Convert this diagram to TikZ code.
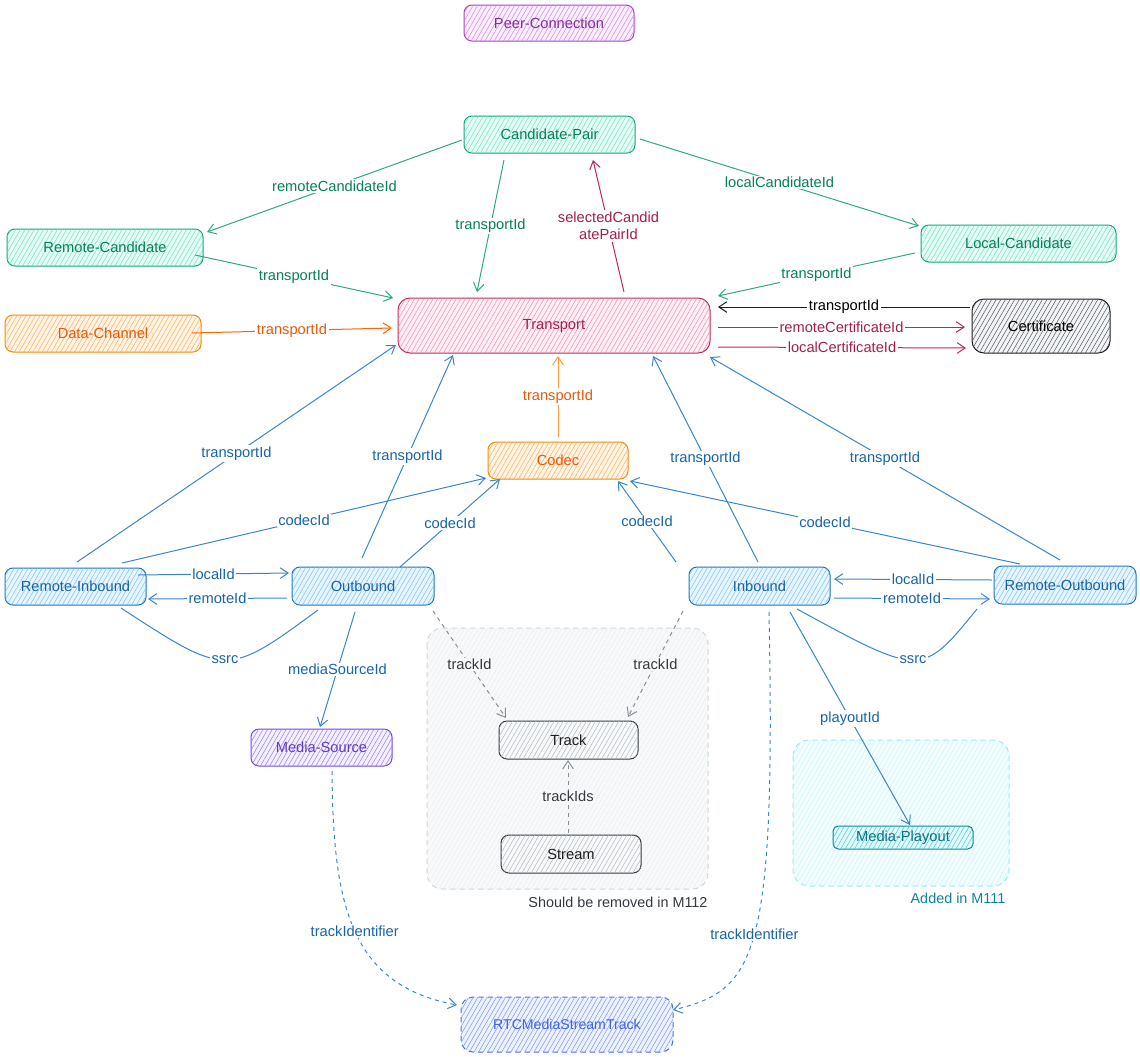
\documentclass[tikz,border=0pt]{standalone}
\usepackage{fontspec}
\setmainfont{Liberation Sans}
\usetikzlibrary{arrows.meta,patterns.meta}
\definecolor{grS}{HTML}{12A27C}\definecolor{grF}{HTML}{E6FCF5}\definecolor{grH}{HTML}{63E6BE}\definecolor{grT}{HTML}{087F5B}\definecolor{grL}{HTML}{2FA883}
\definecolor{pkS}{HTML}{C2255C}\definecolor{pkF}{HTML}{FFF0F6}\definecolor{pkH}{HTML}{F783AC}\definecolor{pkT}{HTML}{A61E4D}
\definecolor{orS}{HTML}{F08C00}\definecolor{orF}{HTML}{FFF4E6}\definecolor{orH}{HTML}{FFA94D}\definecolor{orT}{HTML}{E8590C}\definecolor{orL}{HTML}{F76707}
\definecolor{blS}{HTML}{1971C2}\definecolor{blF}{HTML}{E7F5FF}\definecolor{blH}{HTML}{74C0FC}\definecolor{blT}{HTML}{1864AB}\definecolor{blL}{HTML}{3A86CC}
\definecolor{viS}{HTML}{7048E8}\definecolor{viF}{HTML}{F3F0FF}\definecolor{viH}{HTML}{9775FA}\definecolor{viT}{HTML}{5F3DC4}
\definecolor{puS}{HTML}{AE3EC9}\definecolor{puF}{HTML}{F8F0FC}\definecolor{puH}{HTML}{DA77F2}\definecolor{puT}{HTML}{862E9C}
\definecolor{ceS}{HTML}{1E1E1E}\definecolor{ceF}{HTML}{F1F3F5}\definecolor{ceH}{HTML}{495057}
\definecolor{tkS}{HTML}{343A40}\definecolor{tkF}{HTML}{F8F9FA}\definecolor{tkH}{HTML}{ADB5BD}\definecolor{tkT}{HTML}{1E1E1E}\definecolor{tkL}{HTML}{868E96}
\definecolor{mpS}{HTML}{0C8599}\definecolor{mpF}{HTML}{E3FAFC}\definecolor{mpH}{HTML}{3BC9DB}\definecolor{mpT}{HTML}{0B7285}
\definecolor{rtS}{HTML}{4C6EF5}\definecolor{rtF}{HTML}{EDF2FF}\definecolor{rtH}{HTML}{748FFC}\definecolor{rtT}{HTML}{4263EB}
\definecolor{ggS}{HTML}{CED4DA}\definecolor{ggF}{HTML}{F8F9FA}\definecolor{ggH}{HTML}{E9ECEF}
\definecolor{cgS}{HTML}{99E9F2}\definecolor{cgF}{HTML}{F3FDFE}\definecolor{cgH}{HTML}{C5F6FA}
\newcommand\myNodeFont{\fontsize{11}{13}\selectfont}
\newcommand\myLabFont{\fontsize{11}{13}\selectfont}
\begin{document}
\begin{tikzpicture}[x=0.75pt,y=-0.75pt,
  base/.style={rounded corners=6pt, line width=0.75pt, font=\myNodeFont, inner sep=0pt},
  hatch/.style={postaction={pattern={Lines[angle=60,distance=3pt,line width=0.35pt]},pattern color=#1}},
  sz/.style 2 args={minimum width=#1*0.75pt, minimum height=#2*0.75pt},
  bx/.style n args={4}{base, draw=#1, fill=#2, hatch=#3, text=#4},
  grp/.style n args={3}{rounded corners=12pt, draw=#1, fill=#2, hatch=#3, line width=0.75pt, dash pattern=on 4pt off 3pt},
  e/.style={line width=0.75pt, -{Straight Barb[length=6pt,width=8pt]}},
  dsh/.style={dash pattern=on 3pt off 3pt},
  lab/.style={fill=white, inner sep=1.2pt, font=\myLabFont, midway},
]
\useasboundingbox (0,0) rectangle (1140,1057);

% groups
\draw[grp={ggS}{ggF}{ggH}] (427,628) rectangle (708,889);
\draw[grp={cgS}{cgF}{cgH}] (793,740) rectangle (1009,886);
\node[text=tkS, font=\fontsize{10.8}{13}\selectfont] (gtxt) at (618,902) {Should be removed in M112};
\node[text=mpS, font=\fontsize{10.8}{13}\selectfont] (ctxt) at (958,898) {Added in M111};

% nodes
\node[bx={puS}{puF}{puH}{puT}, sz={170}{36}] (pc) at (549,23) {Peer-Connection};
\node[bx={grS}{grF}{grH}{grT}, sz={171}{37}] (cp) at (549.5,134.5) {Candidate-Pair};
\node[bx={grS}{grF}{grH}{grT}, sz={196}{37}] (rc) at (105,247.5) {Remote-Candidate};
\node[bx={grS}{grF}{grH}{grT}, sz={195}{37}] (lc) at (1018.5,243.5) {Local-Candidate};
\node[bx={orS}{orF}{orH}{orT}, sz={196}{37}] (dc) at (103,333.5) {Data-Channel};
\node[bx={pkS}{pkF}{pkH}{pkT}, sz={312}{55}, rounded corners=9pt] (tr) at (554,325.5) {Transport};
\node[bx={ceS}{ceF}{ceH}{black}, sz={138}{54}, rounded corners=9pt] (cert) at (1041,326) {Certificate};
\node[bx={orS}{orF}{orH}{orT}, sz={140}{37}] (codec) at (558,460.5) {Codec};
\node[bx={blS}{blF}{blH}{blT}, sz={141}{37}] (ri) at (75.5,586.5) {Remote-Inbound};
\node[bx={blS}{blF}{blH}{blT}, sz={142}{38}] (ob) at (363,586) {Outbound};
\node[bx={blS}{blF}{blH}{blT}, sz={141}{38}] (ib) at (759.5,586) {Inbound};
\node[bx={blS}{blF}{blH}{blT}, sz={142}{38}] (ro) at (1065,585) {Remote-Outbound};
\node[bx={viS}{viF}{viH}{viT}, sz={141}{37}] (ms) at (321.5,747.5) {Media-Source};
\node[bx={tkS}{tkF}{tkH}{tkT}, sz={139}{38}] (track) at (568.5,740) {Track};
\node[bx={tkS}{tkF}{tkH}{tkT}, sz={140}{38}] (stream) at (571,854) {Stream};
\node[bx={mpS}{mpF}{mpH}{mpT}, sz={140}{23}, rounded corners=4pt] (mp) at (903,837.5) {Media-Playout};
\node[bx={rtS}{rtF}{rtH}{rtT}, sz={212}{55}, rounded corners=9pt, dash pattern=on 4pt off 3pt, font=\fontsize{10.6}{13}\selectfont] (rtc) at (567,1024.5) {RTCMediaStreamTrack};

% green edges
\draw[e, grL] ([shift={(-87.5,5.5)}]cp.center) -- node[lab, text=grT]{remoteCandidateId} ([shift={(102,-15.5)}]rc.center);
\draw[e, grL] ([shift={(-45.5,25.5)}]cp.center) -- node[lab, text=grT]{transportId} ([shift={(-77,-33.5)}]tr.center);
\draw[e, grL] ([shift={(90.5,4.5)}]cp.center) -- node[lab, text=grT]{localCandidateId} ([shift={(-99.5,-17.5)}]lc.center);
\draw[e, grL] ([shift={(-103.5,9.5)}]lc.center) -- node[lab, text=grT]{transportId} ([shift={(164,-29.5)}]tr.center);
\draw[e, grL] ([shift={(90,7.5)}]rc.center) -- node[lab, text=grT]{transportId} ([shift={(-161,-27.5)}]tr.center);
% pink edges
\draw[e, pkS] ([shift={(70,-33.5)}]tr.center) -- node[lab, text=pkT, align=center]{selectedCandid\\atePairId} ([shift={(43.5,25.5)}]cp.center);
\draw[e, pkS] ([shift={(164,1.5)}]tr.center) -- node[lab, text=pkT]{remoteCertificateId} ([shift={(-76,1)}]cert.center);
\draw[e, pkS] ([shift={(164,21.5)}]tr.center) -- node[lab, text=pkT]{localCertificateId} ([shift={(-75,22)}]cert.center);
% black
\draw[e, ceS] ([shift={(-71,-19)}]cert.center) -- node[lab, text=black]{transportId} ([shift={(164,-18.5)}]tr.center);
% orange
\draw[e, orL] ([shift={(89,-0.5)}]dc.center) -- node[lab, text=orT]{transportId} ([shift={(-162,2.5)}]tr.center);
\draw[e, orH!80!orL] ([shift={(0,-23.5)}]codec.center) -- node[lab, text=orT]{transportId} ([shift={(4,30.5)}]tr.center);
% blue to transport
\draw[e, blL] ([shift={(1.5,-24.5)}]ri.center) -- node[lab, text=blT]{transportId} ([shift={(-158,19.5)}]tr.center);
\draw[e, blL] ([shift={(-1,-28)}]ob.center) -- node[lab, text=blT]{transportId} ([shift={(-101,29.5)}]tr.center);
\draw[e, blL] ([shift={(-1.5,-24)}]ib.center) -- node[lab, text=blT]{transportId} ([shift={(99,30.5)}]tr.center);
\draw[e, blL] ([shift={(-5,-25)}]ro.center) -- node[lab, text=blT]{transportId} ([shift={(156,31.5)}]tr.center);
% blue to codec
\draw[e, blL] ([shift={(46.5,-23.5)}]ri.center) -- node[lab, text=blT]{codecId} ([shift={(-72,17.5)}]codec.center);
\draw[e, blL] ([shift={(37,-19)}]ob.center) -- node[lab, text=blT]{codecId} ([shift={(-58,18.5)}]codec.center);
\draw[e, blL] ([shift={(-83.5,-24)}]ib.center) -- node[lab, text=blT]{codecId} ([shift={(60,20.5)}]codec.center);
\draw[e, blL] ([shift={(-45,-21)}]ro.center) -- node[lab, text=blT]{codecId} ([shift={(72,20.5)}]codec.center);
% local / remote ids
\draw[e, blL] ([shift={(62.5,-11.5)}]ri.center) -- node[lab, text=blT]{localId} ([shift={(-74,-13)}]ob.center);
\draw[e, blL] ([shift={(-76,12)}]ob.center) -- node[lab, text=blT]{remoteId} ([shift={(72.5,12.5)}]ri.center);
\draw[e, blL] ([shift={(-73,-5)}]ro.center) -- node[lab, text=blT]{localId} ([shift={(74.5,-7)}]ib.center);
\draw[e, blL] ([shift={(74.5,12)}]ib.center) -- node[lab, text=blT]{remoteId} ([shift={(-75,14)}]ro.center);
% ssrc
\draw[line width=0.75pt, blL] ([shift={(45.5,21.5)}]ri.center) .. controls (226.8,677) .. node[lab, pos=0.5, text=blT]{ssrc} ([shift={(-45,24)}]ob.center);
\draw[line width=0.75pt, blL] ([shift={(37.5,23)}]ib.center) .. controls (921.7,677) .. node[lab, pos=0.5, text=blT]{ssrc} ([shift={(-88,24)}]ro.center);
% media source, playout
\draw[e, blL] ([shift={(-8,26)}]ob.center) -- node[lab, text=blT]{mediaSourceId} ([shift={(-1.5,-20.5)}]ms.center);
\draw[e, blL] ([shift={(30.5,26)}]ib.center) -- node[lab, text=blT]{playoutId} ([shift={(7,-12.5)}]mp.center);
% track edges
\draw[e, tkL, dsh] ([shift={(70,25)}]ob.center) -- node[lab, fill=ggF, text=tkS]{trackId} ([shift={(-62.5,-22)}]track.center);
\draw[e, tkL, dsh] ([shift={(-76.5,25)}]ib.center) -- node[lab, fill=ggF, text=tkS]{trackId} ([shift={(59.5,-23)}]track.center);
\draw[e, tkL, dsh] ([shift={(-3,-21)}]stream.center) -- node[lab, fill=ggF, text=tkS]{trackIds} ([shift={(-0.5,20)}]track.center);
% track identifier curves
\draw[e, blL, dsh] ([shift={(10.5,23.5)}]ms.center) .. controls (333,905) and (350,985) .. node[lab, pos=0.5, text=blT]{trackIdentifier} ([shift={(-110,-19.5)}]rtc.center);
\draw[e, blL, dsh] ([shift={(9.5,26)}]ib.center) .. controls (776,960) and (755,990) .. node[lab, pos=0.5, text=blT]{trackIdentifier} ([shift={(106,-14.5)}]rtc.center);
\end{tikzpicture}
\end{document}
